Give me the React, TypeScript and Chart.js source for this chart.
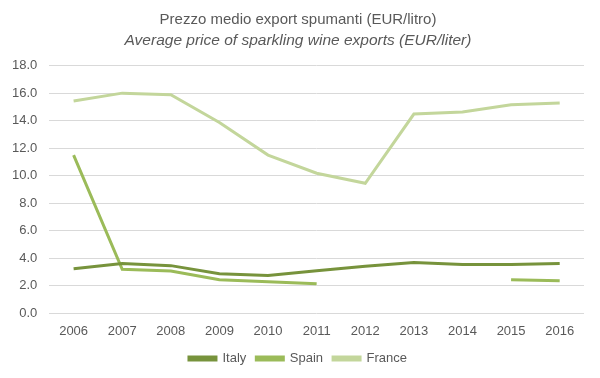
import React, { useEffect, useRef } from "react";
import { Chart, registerables } from "chart.js";

Chart.register(...registerables);

const years = ["2006", "2007", "2008", "2009", "2010", "2011", "2012", "2013", "2014", "2015", "2016"];
const italy = [3.25, 3.62, 3.47, 2.88, 2.75, 3.1, 3.42, 3.7, 3.55, 3.55, 3.62];
const spain = [11.5, 3.2, 3.08, 2.45, 2.3, 2.15, null, null, null, 2.45, 2.37];
const france = [15.43, 16.0, 15.88, 13.87, 11.5, 10.18, 9.45, 14.48, 14.63, 15.15, 15.28];

const FONT = "'Liberation Sans', 'Arial', sans-serif";
const TEXT = "#595959";

export default function App() {
  const ref = useRef<HTMLCanvasElement>(null);
  useEffect(() => {
    const ctx = ref.current!;
    const chart = new Chart(ctx, {
      type: "line",
      data: {
        labels: years,
        datasets: [
          { label: "Italy", data: italy, borderColor: "#77933C", backgroundColor: "#77933C", borderWidth: 3, pointRadius: 0, tension: 0, spanGaps: false },
          { label: "Spain", data: spain, borderColor: "#9BBB59", backgroundColor: "#9BBB59", borderWidth: 3, pointRadius: 0, tension: 0, spanGaps: false },
          { label: "France", data: france, borderColor: "#C3D69B", backgroundColor: "#C3D69B", borderWidth: 3, pointRadius: 0, tension: 0, spanGaps: false },
        ],
      },
      options: {
        animation: false,
        responsive: false,
        maintainAspectRatio: false,
        layout: { padding: { left: 12, right: 16, top: 1, bottom: 3 } },
        plugins: {
          title: {
            display: true,
            text: "Prezzo medio export spumanti (EUR/litro)",
            color: TEXT,
            font: { family: FONT, size: 15, weight: "normal" },
            padding: { top: 10, bottom: 2 },
          },
          subtitle: {
            display: true,
            text: "Average price of sparkling wine exports (EUR/liter)",
            color: TEXT,
            font: { family: FONT, size: 15.5, style: "italic", weight: "normal" },
            padding: { top: 0, bottom: 16 },
          },
          legend: {
            position: "bottom",
            labels: {
              color: TEXT,
              font: { family: FONT, size: 13 },
              boxWidth: 27,
              boxHeight: 3,
              padding: 10,
            },
          },
          tooltip: { enabled: false },
        },
        scales: {
          x: {
            offset: true,
            grid: { display: false, drawTicks: false },
            border: { display: false },
            ticks: { color: TEXT, font: { family: FONT, size: 13 }, padding: 10, maxRotation: 0 },
            afterFit: (axis: any) => {
              axis.height = axis.height - 7;
            },
          },
          y: {
            min: 0,
            max: 18,
            grid: { color: "#d9d9d9", lineWidth: 1, drawTicks: false },
            border: { display: false },
            ticks: {
              stepSize: 2,
              color: TEXT,
              font: { family: FONT, size: 13 },
              padding: 12,
              callback: (v: any) => Number(v).toFixed(1),
            },
            afterFit: (axis: any) => {
              axis.width = axis.width - 12;
            },
          },
        },
      },
    });
    return () => chart.destroy();
  }, []);
  return (
    <div style={{ position: "fixed", left: 0, top: 0, width: 600, height: 378, background: "#fff" }}>
      <canvas ref={ref} width={600} height={378} style={{ width: 600, height: 378 }} />
    </div>
  );
}
